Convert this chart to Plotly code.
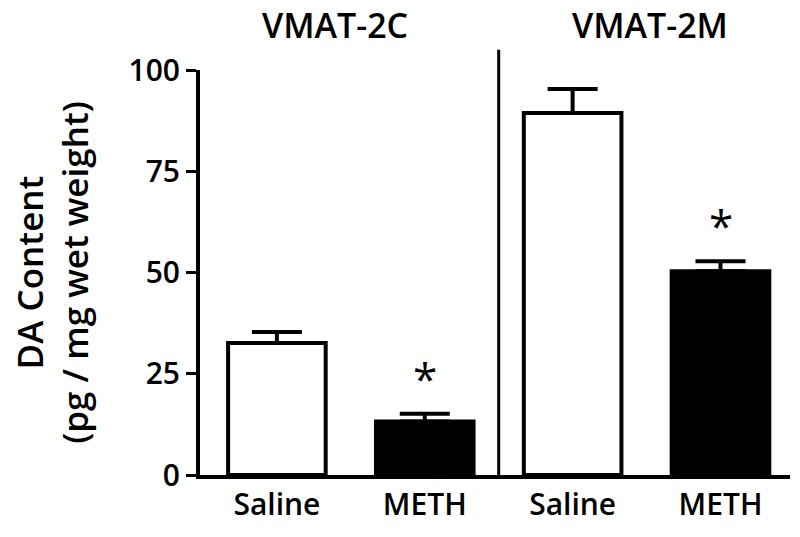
import plotly.graph_objects as go

groups = ["VMAT-2C", "VMAT-2C", "VMAT-2M", "VMAT-2M"]
treatments = ["Saline", "METH", "Saline", "METH"]
da_content = [32.6, 13.2, 89.4, 50.3]
sem = [2.7, 1.9, 5.9, 2.5]
significant = [False, True, False, True]
group_titles = ["VMAT-2C", "VMAT-2M"]
y_ticks = [0, 25, 50, 75, 100]

FONT = "Open Sans"
xpos = list(range(len(treatments)))
fills = ["white" if t == "Saline" else "black" for t in treatments]

fig = go.Figure()
fig.add_trace(go.Bar(
    x=xpos, y=da_content, width=0.66,
    marker=dict(color=fills, line=dict(color="black", width=4)),
    error_y=dict(type="data", array=sem, arrayminus=[0] * len(sem), symmetric=False,
                 color="black", thickness=4, width=25),
    showlegend=False,
))

for x, v, e, s in zip(xpos, da_content, sem, significant):
    if s:
        fig.add_annotation(x=x, y=v + e, text="*", showarrow=False, xref="x", yref="y",
                           yanchor="bottom", yshift=4,
                           font=dict(family=FONT, size=44, color="black"))

# group titles (centre at ~25 px from the top)
TITLE_Y = 1 + 45 / 405
fig.add_annotation(x=0.39, y=TITLE_Y, xref="x", yref="paper", text=group_titles[0], showarrow=False,
                   yanchor="middle", font=dict(family=FONT, size=34, color="black", weight=600))
fig.add_annotation(x=2.52, y=TITLE_Y, xref="x", yref="paper", text=group_titles[1], showarrow=False,
                   yanchor="middle", font=dict(family=FONT, size=34, color="black", weight=600))

# divider
fig.add_shape(type="line", xref="x", yref="paper", x0=1.5, x1=1.5, y0=-0.005, y1=1.05,
              line=dict(color="black", width=3))

fig.update_layout(
    width=800, height=537,
    margin=dict(l=200, r=10, t=70, b=62, autoexpand=False),
    plot_bgcolor="white", paper_bgcolor="white",
    font=dict(family=FONT, color="black"),
    bargap=0.3,
)
fig.update_xaxes(
    range=[-0.52, 3.47], tickvals=xpos, ticktext=treatments,
    showline=True, linecolor="black", linewidth=4, ticks="",
    tickfont=dict(family=FONT, size=30, color="black", weight=600),
    showgrid=False, zeroline=False, fixedrange=True,
)
fig.update_yaxes(
    range=[0, 100], tickvals=y_ticks,
    showline=True, linecolor="black", linewidth=4,
    ticks="outside", ticklen=10, tickwidth=3, tickcolor="black",
    tickfont=dict(family=FONT, size=30, color="black", weight=600),
    showgrid=False, zeroline=False, fixedrange=True,
    title=dict(text="DA Content<br>(pg / mg wet weight)", standoff=30,
               font=dict(family=FONT, size=35, color="black", weight=600)),
)

fig.write_html("out.html", config={"displayModeBar": False, "staticPlot": True},
               post_script="document.body.style.margin='0';document.body.style.overflow='hidden';")
